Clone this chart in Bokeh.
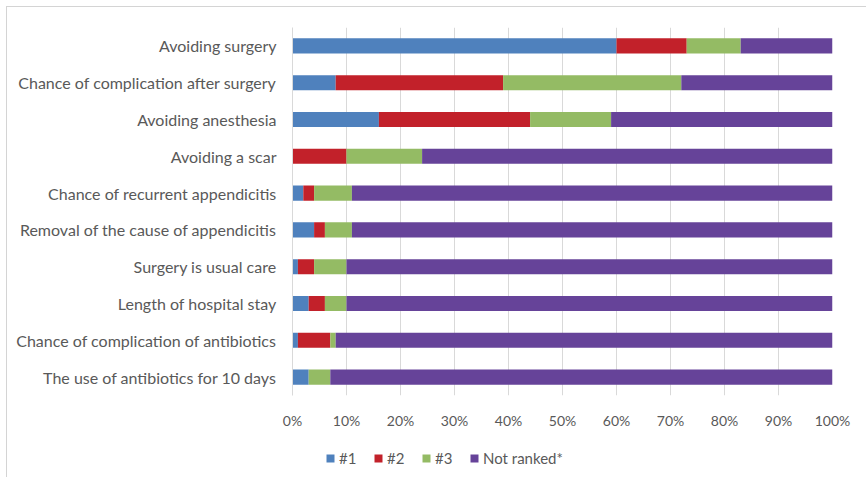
from bokeh.plotting import figure
from bokeh.layouts import column
from bokeh.models import (FactorRange, Range1d, FixedTicker, NumeralTickFormatter,
                          Legend, LegendItem)
from bokeh.embed import file_html
from bokeh.resources import INLINE

# Reasons, listed top to bottom
reasons = [
    "Avoiding surgery",
    "Chance of complication after surgery",
    "Avoiding anesthesia",
    "Avoiding a scar",
    "Chance of recurrent appendicitis",
    "Removal of the cause of appendicitis",
    "Surgery is usual care",
    "Length of hospital stay",
    "Chance of complication of antibiotics",
    "The use of antibiotics for 10 days",
]

# Share of respondents (%) per rank
rank1 = [60, 8, 16, 0, 2, 4, 1, 3, 1, 3]
rank2 = [13, 31, 28, 10, 2, 2, 3, 3, 6, 0]
rank3 = [10, 33, 15, 14, 7, 5, 6, 4, 1, 4]
not_ranked = [17, 28, 41, 76, 89, 89, 90, 90, 92, 93]

series_names = ["#1", "#2", "#3", "Not ranked*"]
series_keys = ["r1", "r2", "r3", "nr"]
colors = ["#4F81BD", "#C2212A", "#94BB64", "#664399"]

tick_values = [0, 0.1, 0.2, 0.3, 0.4, 0.5, 0.6, 0.7, 0.8, 0.9, 1.0]

data = {
    "reason": reasons,
    "r1": [v / 100 for v in rank1],
    "r2": [v / 100 for v in rank2],
    "r3": [v / 100 for v in rank3],
    "nr": [v / 100 for v in not_ranked],
}

FONT = "Lato"
TEXT = "#595959"
GRID = "#d9d9d9"
FRAME = "#d4d4d4"

# ---- main chart -------------------------------------------------------------
p = figure(
    width=866, height=440,
    y_range=FactorRange(*reversed(reasons), range_padding=0),
    x_range=Range1d(0, 1),
    output_backend="svg", toolbar_location=None,
    min_border_left=292, min_border_right=34,
    min_border_top=27, min_border_bottom=45,
)
p.border_fill_color = None
p.background_fill_color = None
p.outline_line_color = None

renderers = p.hbar_stack(series_keys, y="reason", height=0.41, color=colors,
                         line_color=None, source=data)

p.xaxis.ticker = FixedTicker(ticks=tick_values)
p.xaxis.formatter = NumeralTickFormatter(format="0%")
p.xaxis.axis_line_color = None
p.xaxis.major_tick_line_color = None
p.xaxis.minor_tick_line_color = None
p.xaxis.major_label_standoff = 10
p.xaxis.major_label_text_font = FONT
p.xaxis.major_label_text_font_size = "14px"
p.xaxis.major_label_text_color = TEXT

p.yaxis.axis_line_color = GRID
p.yaxis.major_tick_line_color = None
p.yaxis.minor_tick_line_color = None
p.yaxis.major_label_standoff = 10
p.yaxis.major_label_text_font = FONT
p.yaxis.major_label_text_font_size = "16px"
p.yaxis.major_label_text_color = TEXT

p.xgrid.grid_line_color = GRID
p.xgrid.grid_line_width = 1
p.ygrid.grid_line_color = None

# ---- legend strip under the chart (its frame lines up with the chart's) ----
lg = figure(
    width=866, height=37,
    x_range=Range1d(0, 1), y_range=Range1d(0, 1),
    x_axis_type=None, y_axis_type=None,
    output_backend="svg", toolbar_location=None,
    min_border=0,
)
lg.border_fill_color = None
lg.background_fill_color = None
lg.outline_line_color = None
lg.grid.visible = False

# legend swatches only; their single NaN row is never drawn in the strip
nan = float("nan")
swatches = [lg.hbar(y=[nan], left=[nan], right=[nan], height=0.5,
                    color=c, line_color=None)
            for c in colors]

legend = Legend(
    items=[LegendItem(label=n, renderers=[r]) for n, r in zip(series_names, swatches)],
    orientation="horizontal",
    location=(33, 10),
    glyph_width=10, glyph_height=10,
    label_standoff=4, spacing=14, padding=0, margin=0,
    label_text_font=FONT, label_text_font_size="15px", label_text_color=TEXT,
    border_line_color=None, background_fill_alpha=0,
)
lg.add_layout(legend, "center")

layout = column(p, lg, spacing=0)
# chart-area frame: top and left edges
layout.styles = {
    "background": (
        f"linear-gradient({FRAME},{FRAME}) 6px 6px / 860px 1px no-repeat, "
        f"linear-gradient({FRAME},{FRAME}) 6px 6px / 1px 471px no-repeat, white"
    ),
}

open("out.html", "w").write(file_html(layout, INLINE))
